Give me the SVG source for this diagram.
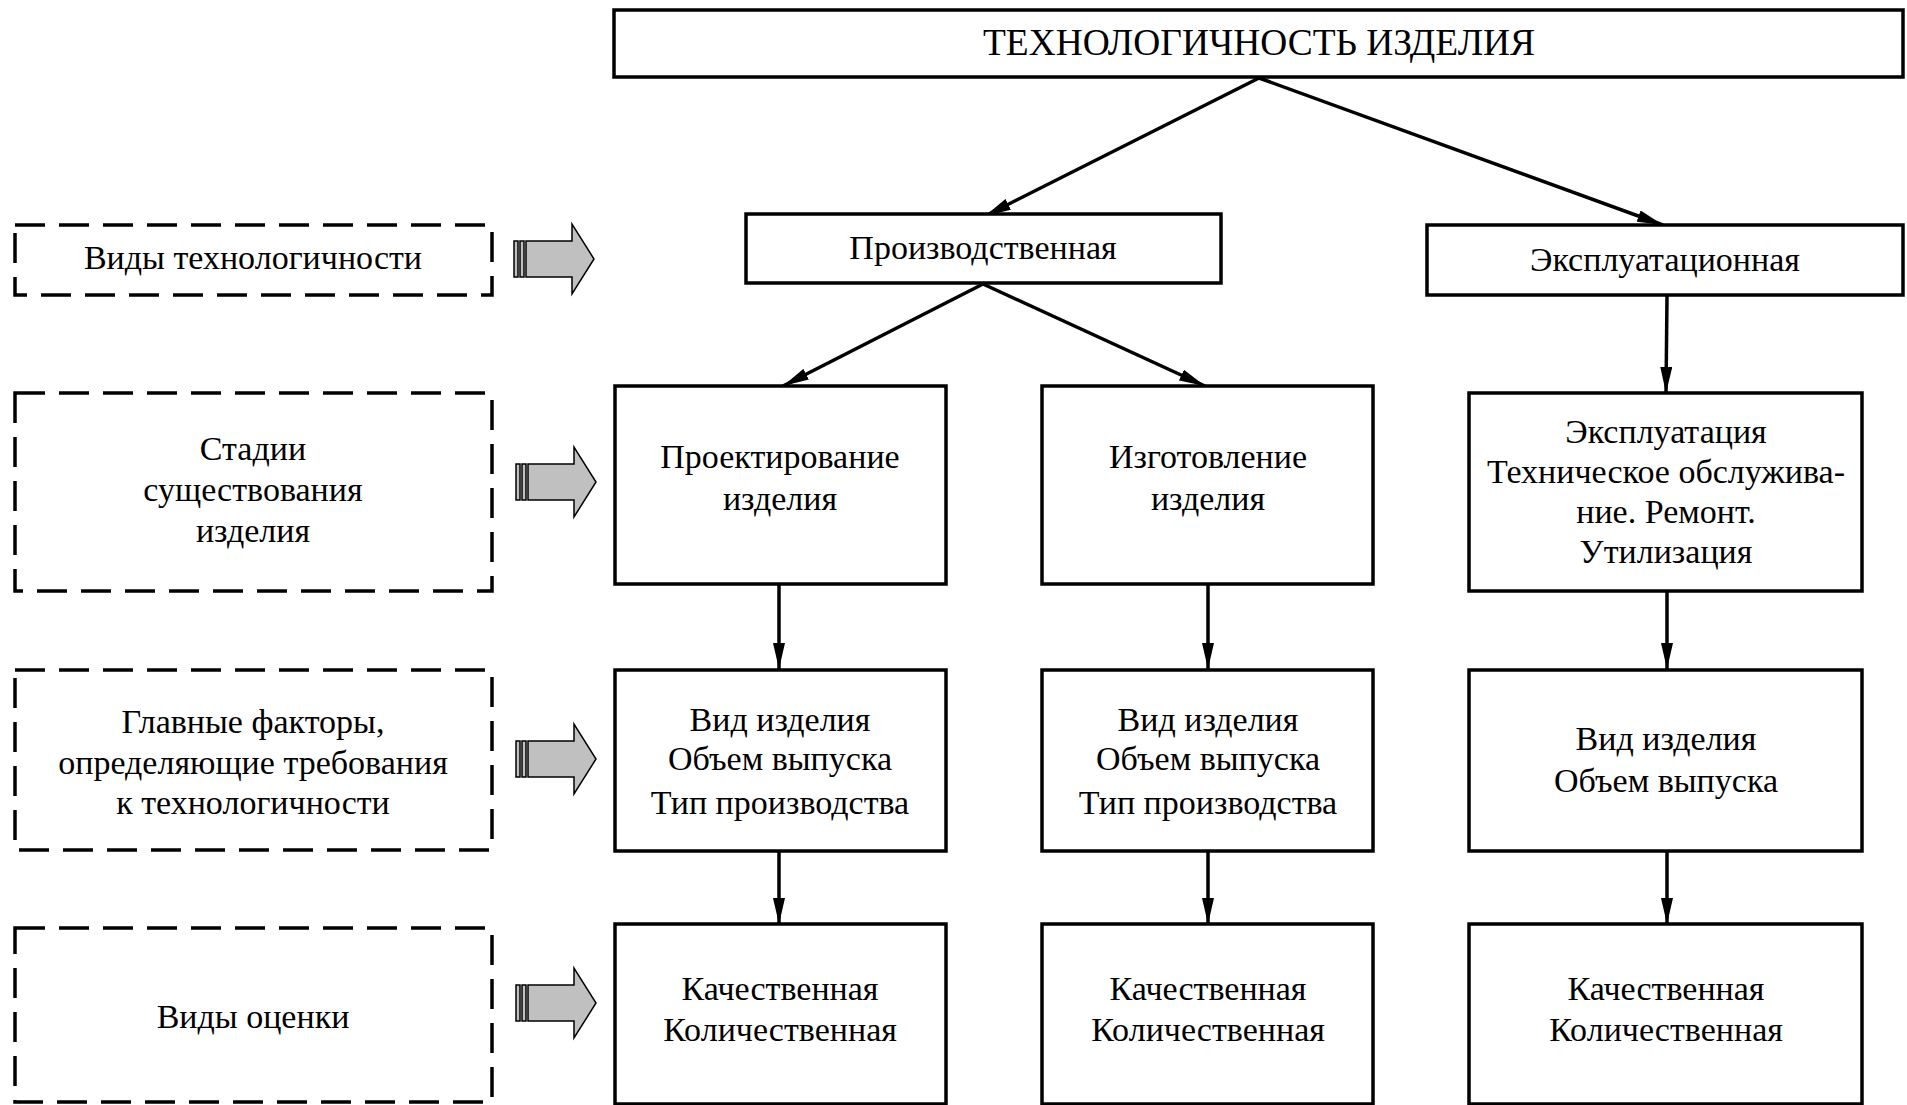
<svg xmlns="http://www.w3.org/2000/svg" width="1907" height="1105" viewBox="0 0 1907 1105">
<style>
.box{fill:#fff;stroke:#000;stroke-width:3.5}
.dash{fill:none;stroke:#000;stroke-width:3.5;stroke-dasharray:30 14}
.t{font-family:"Liberation Serif","Times New Roman",serif;font-size:34px;fill:#000;text-anchor:middle}
.c{fill:none;stroke:#000;stroke-width:3.5}
.ga{fill:#c0c0c0;stroke:#000;stroke-width:1.5}
</style>
<defs>
<marker id="ah" viewBox="0 0 26 12" refX="26" refY="6" markerWidth="26" markerHeight="12" markerUnits="userSpaceOnUse" orient="auto">
<path d="M0,0 L26,6 L0,12 Z" fill="#000"/>
</marker>
<g id="garrow">
<rect class="ga" x="0" y="-18" width="4" height="36"/>
<rect class="ga" x="6" y="-18" width="4" height="36"/>
<polygon class="ga" points="12,-18 58,-18 58,-35 80,0 58,35 58,18 12,18"/>
</g>
</defs>
<rect width="1907" height="1105" fill="#fff"/>

<g id="connectors">
<line class="c" x1="1259" y1="78" x2="985" y2="216" marker-end="url(#ah)"/>
<line class="c" x1="1259" y1="78" x2="1663" y2="225" marker-end="url(#ah)"/>
<line class="c" x1="983" y1="284" x2="783" y2="386" marker-end="url(#ah)"/>
<line class="c" x1="983" y1="284" x2="1205" y2="386" marker-end="url(#ah)"/>
<line class="c" x1="1667" y1="296" x2="1666" y2="393" marker-end="url(#ah)"/>
<line class="c" x1="779" y1="584" x2="779" y2="669" marker-end="url(#ah)"/>
<line class="c" x1="1208" y1="584" x2="1208" y2="669" marker-end="url(#ah)"/>
<line class="c" x1="1667" y1="590" x2="1667" y2="669" marker-end="url(#ah)"/>
<line class="c" x1="779" y1="851" x2="779" y2="924" marker-end="url(#ah)"/>
<line class="c" x1="1208" y1="851" x2="1208" y2="924" marker-end="url(#ah)"/>
<line class="c" x1="1667" y1="851" x2="1667" y2="924" marker-end="url(#ah)"/>
<use href="#garrow" x="514" y="259"/>
<use href="#garrow" x="516" y="482"/>
<use href="#garrow" x="516" y="759"/>
<use href="#garrow" x="516" y="1003"/>
</g>

<g id="title">
<rect class="box" x="614" y="10" width="1289" height="67"/>
<text class="t" x="1259" y="55" style="font-size:37px" textLength="552" lengthAdjust="spacingAndGlyphs">ТЕХНОЛОГИЧНОСТЬ ИЗДЕЛИЯ</text>
</g>

<g id="label-vidy-tech">
<rect class="dash" x="15" y="225" width="477" height="70"/>
<text class="t" x="253" y="269">Виды технологичности</text>
</g>
<g id="label-stadii">
<rect class="dash" x="15" y="393" width="477" height="198"/>
<text class="t" x="253" y="460">Стадии</text>
<text class="t" x="253" y="501">существования</text>
<text class="t" x="253" y="542">изделия</text>
</g>
<g id="label-factory">
<rect class="dash" x="15" y="670" width="477" height="180"/>
<text class="t" x="253" y="733">Главные факторы,</text>
<text class="t" x="253" y="774">определяющие требования</text>
<text class="t" x="253" y="814">к технологичности</text>
</g>
<g id="label-ocenka">
<rect class="dash" x="15" y="928" width="477" height="174"/>
<text class="t" x="253" y="1028">Виды оценки</text>
</g>

<g id="proizv">
<rect class="box" x="746" y="214" width="475" height="69"/>
<text class="t" x="983" y="259">Производственная</text>
</g>
<g id="ekspl">
<rect class="box" x="1427" y="225" width="476" height="70"/>
<text class="t" x="1665" y="271">Эксплуатационная</text>
</g>

<g id="proekt">
<rect class="box" x="615" y="386" width="331" height="198"/>
<text class="t" x="780" y="468">Проектирование</text>
<text class="t" x="780" y="510">изделия</text>
</g>
<g id="izgot">
<rect class="box" x="1042" y="386" width="331" height="198"/>
<text class="t" x="1208" y="468">Изготовление</text>
<text class="t" x="1208" y="510">изделия</text>
</g>
<g id="ekspl-stage">
<rect class="box" x="1469" y="393" width="393" height="198"/>
<text class="t" x="1666" y="443">Эксплуатация</text>
<text class="t" x="1666" y="483">Техническое обслужива-</text>
<text class="t" x="1666" y="523">ние. Ремонт.</text>
<text class="t" x="1666" y="563">Утилизация</text>
</g>

<g id="factors-1">
<rect class="box" x="615" y="670" width="331" height="181"/>
<text class="t" x="780" y="731">Вид изделия</text>
<text class="t" x="780" y="770">Объем выпуска</text>
<text class="t" x="780" y="814">Тип производства</text>
</g>
<g id="factors-2">
<rect class="box" x="1042" y="670" width="331" height="181"/>
<text class="t" x="1208" y="731">Вид изделия</text>
<text class="t" x="1208" y="770">Объем выпуска</text>
<text class="t" x="1208" y="814">Тип производства</text>
</g>
<g id="factors-3">
<rect class="box" x="1469" y="670" width="393" height="181"/>
<text class="t" x="1666" y="750">Вид изделия</text>
<text class="t" x="1666" y="792">Объем выпуска</text>
</g>

<g id="ocenka-1">
<rect class="box" x="615" y="924" width="331" height="180"/>
<text class="t" x="780" y="1000">Качественная</text>
<text class="t" x="780" y="1041">Количественная</text>
</g>
<g id="ocenka-2">
<rect class="box" x="1042" y="924" width="331" height="180"/>
<text class="t" x="1208" y="1000">Качественная</text>
<text class="t" x="1208" y="1041">Количественная</text>
</g>
<g id="ocenka-3">
<rect class="box" x="1469" y="924" width="393" height="180"/>
<text class="t" x="1666" y="1000">Качественная</text>
<text class="t" x="1666" y="1041">Количественная</text>
</g>
</svg>
